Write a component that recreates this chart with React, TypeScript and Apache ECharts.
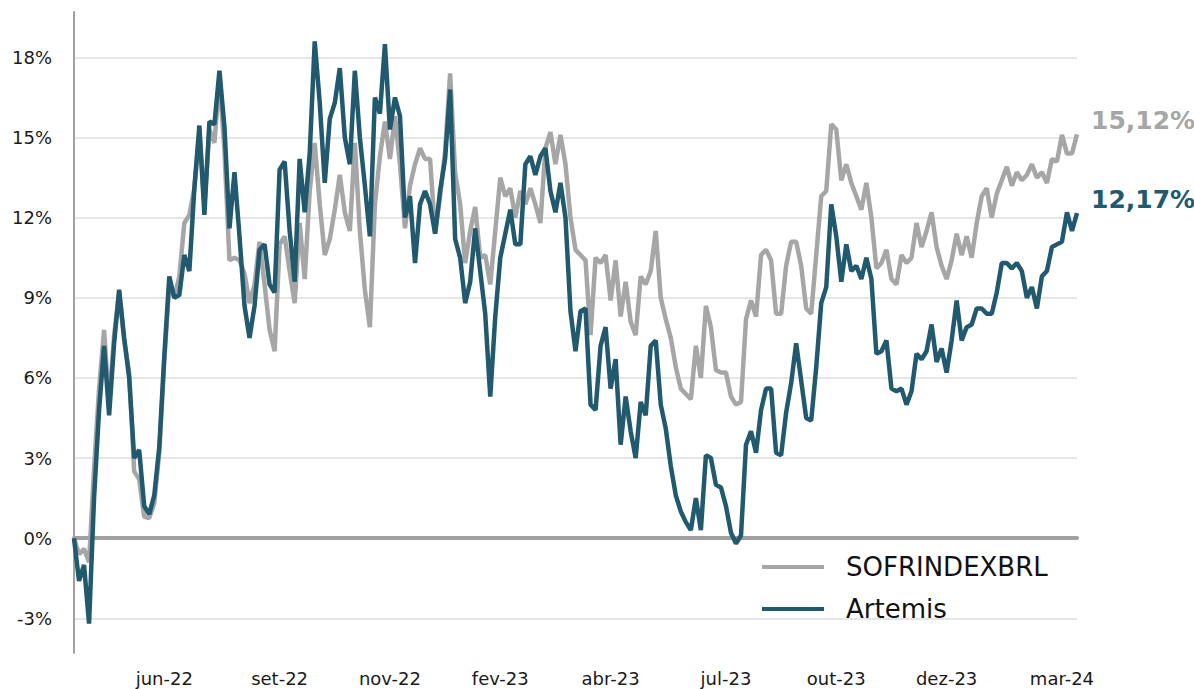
import React, { useEffect, useRef } from "react";
import * as echarts from "echarts";

const seriesNames = ["SOFRINDEXBRL", "Artemis"];

const sofr = [
  0, -0.6, -0.4, -0.9, 2.6, 5.6, 7.8, 5.0, 7.6, 9.2,
  7.4, 6.2, 2.5, 2.2, 0.8, 0.75, 1.3, 3.2, 6.6, 9.5,
  9.0, 9.8, 11.8, 12.1, 13.1, 15.2, 12.5, 15.3, 14.8, 17.2,
  14.5, 10.4, 10.5, 10.4, 9.9,
  8.8, 9.5, 11.1, 9.5, 7.8, 7.0, 11.0, 11.3, 10.0, 8.8,
  11.8, 9.7, 13.0, 14.8, 12.5, 10.6, 11.2, 12.3, 13.6, 12.2,
  11.5, 14.8, 11.5, 9.3, 7.9, 12.5, 14.3, 15.6, 14.2, 15.8,
  14.0, 11.6, 13.2, 14.0,
  14.6, 14.2, 14.2, 11.4, 12.8, 14.5, 17.4, 13.7, 12.5, 10.3,
  11.5, 12.4, 10.5, 10.6, 9.5, 11.5, 13.5, 12.8, 13.1, 12.0,
  13.0, 12.5, 13.1, 12.5, 11.8, 14.6, 15.2, 14.0, 15.1, 14.0,
  12.0, 10.8, 10.6,
  10.4, 7.6, 10.5, 10.3, 10.6, 8.9, 10.4, 8.3, 9.6, 8.1,
  7.6, 9.8, 9.5, 10.0, 11.5, 9.0, 8.2, 7.5, 6.4, 5.6,
  5.4, 5.2, 7.2, 6.0, 8.7, 7.9, 6.3, 6.2, 6.2, 5.3,
  5.0, 5.1, 8.2, 8.9,
  8.3, 10.6, 10.8, 10.4, 8.4, 8.4, 10.2, 11.1, 11.1, 10.2,
  8.6, 8.4, 10.6, 12.8, 13.0, 15.5, 15.3, 13.4, 14.0, 13.3,
  12.8, 12.3, 13.3, 12.0, 10.1, 10.3, 10.8, 9.7, 9.5, 10.6,
  10.3, 10.5, 11.8, 10.9,
  11.5, 12.2, 10.9, 10.2, 9.7, 10.4, 11.4, 10.6, 11.3, 10.5,
  11.8, 12.8, 13.1, 12.0, 12.9, 13.4, 13.9, 13.2, 13.7, 13.4,
  13.6, 14.0, 13.5, 13.7, 13.3, 14.2, 14.1, 15.1, 14.4, 14.4,
  15.12,
];

const artemis = [
  0, -1.6, -1.0, -3.2, 1.5, 4.8, 7.2, 4.6, 7.3, 9.3,
  7.5, 6.0, 3.0, 3.3, 1.2, 0.9, 1.6, 3.4, 6.8, 9.8,
  9.0, 9.1, 10.6, 10.0, 13.1, 15.45, 12.1, 15.6, 15.5, 17.5,
  15.4, 11.6, 13.7, 11.3, 8.7,
  7.5, 8.7, 10.8, 11.0, 9.5, 9.2, 13.8, 14.1, 11.5, 9.6,
  14.2, 12.2, 14.4, 18.6, 16.3, 13.3, 15.7, 16.3, 17.6, 15.0,
  14.0, 17.5, 15.0, 13.2, 11.3, 16.5, 15.9, 18.5, 15.3, 16.5,
  15.8, 12.0, 12.8, 10.3,
  12.5, 13.0, 12.5, 11.4, 13.0, 14.2, 16.8, 11.2, 10.5, 8.8,
  9.6, 11.6, 10.0, 8.4, 5.3, 8.3, 10.5, 11.4, 12.3, 11.0,
  11.0, 14.0, 14.3, 13.6, 14.3, 14.6, 13.0, 12.2, 13.3, 12.0,
  8.5, 7.0, 8.5,
  8.6, 5.0, 4.8, 7.2, 7.9, 5.6, 6.7, 3.5, 5.3, 4.0,
  3.0, 5.1, 4.6, 7.2, 7.4, 5.0, 4.1, 2.7, 1.6, 1.0,
  0.6, 0.3, 1.5, 0.3, 3.1, 3.0, 2.0, 1.9, 1.2, 0.2,
  -0.2, 0.1, 3.5, 4.0,
  3.2, 4.8, 5.6, 5.6, 3.2, 3.1, 4.7, 5.8, 7.3, 5.9,
  4.5, 4.4, 6.4, 8.8, 9.4, 12.5, 11.3, 9.6, 11.0, 10.0,
  10.2, 9.7, 10.5, 9.7, 6.9, 7.0, 7.4, 5.6, 5.5, 5.6,
  5.0, 5.5, 6.9, 6.7,
  7.0, 8.0, 6.6, 7.1, 6.2, 7.4, 8.9, 7.4, 7.9, 8.0,
  8.6, 8.6, 8.4, 8.4, 9.2, 10.3, 10.3, 10.1, 10.3, 10.0,
  9.0, 9.4, 8.6, 9.8, 10.0, 10.9, 11.0, 11.1, 12.2, 11.5,
  12.17,
];

const xTickLabels = ["jun-22", "set-22", "nov-22", "fev-23", "abr-23", "jul-23", "out-23", "dez-23", "mar-24"];
const xTickIndex = [18, 41, 63, 85, 107, 130, 152, 174, 197];
const yTicks = [-3, 0, 3, 6, 9, 12, 15, 18];

const GRAY = "#a6a6a6";
const BLUE = "#21596e";
const FONT = "DejaVu Sans";

export default function App() {
  const ref = useRef<HTMLDivElement>(null);

  useEffect(() => {
    const chart = echarts.init(ref.current!, null, { renderer: "svg" });
    const categories = artemis.map((_, i) => String(i));
    const fmtEnd = (v: number) => v.toFixed(2).replace(".", ",") + "%";

    const option: any = {
      animation: false,
      backgroundColor: "#ffffff",
      textStyle: { fontFamily: FONT },
      grid: { left: 74, right: 117, top: 12, bottom: 36, containLabel: false },
      legend: {
        orient: "vertical",
        left: 762,
        top: 552,
        padding: 0,
        itemGap: 12,
        icon: "rect",
        itemWidth: 62,
        itemHeight: 4,
        data: seriesNames,
        textStyle: {
          fontFamily: FONT,
          fontSize: 26,
          color: "#111111",
          lineHeight: 30,
          padding: [0, 0, 0, 17],
        },
      },
      xAxis: [
        {
          type: "category",
          data: categories,
          boundaryGap: false,
          axisLine: { show: false, onZero: false },
          axisTick: { show: false },
          splitLine: { show: false },
          axisLabel: {
            interval: (index: number) => xTickIndex.includes(index),
            formatter: (_v: string, index: number) => {
              const k = xTickIndex.indexOf(index);
              return k >= 0 ? xTickLabels[k] : "";
            },
            fontFamily: FONT,
            fontSize: 18,
            color: "#1a1a1a",
            margin: 16,
          },
        },
        {
          type: "category",
          data: categories,
          boundaryGap: false,
          position: "top",
          axisLine: { show: true, onZero: true, lineStyle: { color: "#a0a0a0", width: 4 } },
          axisTick: { show: false },
          axisLabel: { show: false },
          splitLine: { show: false },
        },
      ],
      yAxis: {
        type: "value",
        min: -4.3,
        max: 19.7,
        axisLine: { show: true, onZero: false, lineStyle: { color: "#a0a0a0", width: 2 } },
        axisTick: { show: false, customValues: yTicks },
        axisLabel: {
          customValues: yTicks,
          formatter: (v: number) => `${v}%`,
          fontFamily: FONT,
          fontSize: 18,
          color: "#1a1a1a",
          margin: 22,
        },
        splitLine: {
          show: true,
          lineStyle: {
            color: yTicks.map((v) => (v === 0 ? "#a0a0a0" : "#e6e6e6")),
            width: 2,
          },
        },
      },
      series: [
        {
          name: seriesNames[0],
          type: "line",
          data: sofr,
          xAxisIndex: 0,
          showSymbol: false,
          symbol: "none",
          lineStyle: { color: GRAY, width: 4.5 },
          itemStyle: { color: GRAY },
          endLabel: {
            show: true,
            formatter: (p: any) => fmtEnd(p.value),
            color: GRAY,
            fontFamily: FONT,
            fontWeight: "bold",
            fontSize: 25,
            offset: [6, -14],
          },
          z: 3,
        },
        {
          name: seriesNames[1],
          type: "line",
          data: artemis,
          xAxisIndex: 0,
          showSymbol: false,
          symbol: "none",
          lineStyle: { color: BLUE, width: 4.5 },
          itemStyle: { color: BLUE },
          endLabel: {
            show: true,
            formatter: (p: any) => fmtEnd(p.value),
            color: BLUE,
            fontFamily: FONT,
            fontWeight: "bold",
            fontSize: 25,
            offset: [6, -14],
          },
          z: 4,
        },
      ],
    };

    chart.setOption(option);
    return () => chart.dispose();
  }, []);

  return (
    <div
      ref={ref}
      style={{ position: "fixed", left: 0, top: 0, width: 1194, height: 689, background: "#fff" }}
    />
  );
}
